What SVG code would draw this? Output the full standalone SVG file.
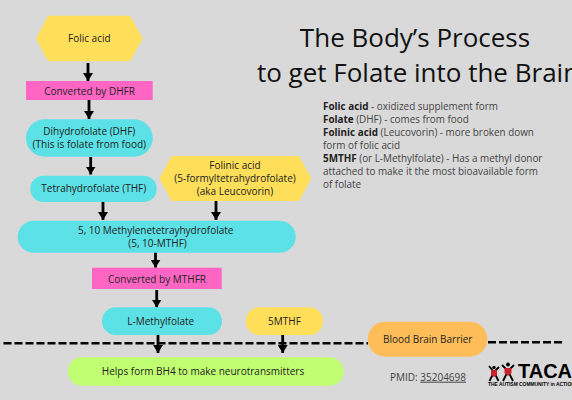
<svg xmlns="http://www.w3.org/2000/svg" width="572" height="400" viewBox="0 0 572 400">
<style>
text{font-family:"Open Sans","Noto Sans","Liberation Sans",sans-serif;font-size:10px;fill:#222;text-anchor:middle}
.t{font-size:26px;fill:#111}
.d{text-anchor:start;font-size:9.9px;fill:#444}
.d tspan.b{font-weight:700;fill:#222}
.c{fill:#5ce1e6}.y{fill:#ffde59}.p{fill:#ff66c4}
.a{stroke:#000;stroke-width:2.8;fill:none;marker-end:url(#h)}
.l{font-family:"Liberation Sans",sans-serif;font-weight:700;fill:#000;text-anchor:start}
</style>
<defs><marker id="h" markerUnits="userSpaceOnUse" markerWidth="12" markerHeight="10" refX="8" refY="5" orient="auto"><path d="M0 0L8 5L0 10Z" fill="#000"/></marker></defs>
<rect width="572" height="400" fill="#d9d9d9"/>
<text class="t" x="415" y="47">The Body’s Process</text>
<text class="t" x="418" y="82">to get Folate into the Brain</text>
<text class="d" x="323" y="110"><tspan class="b">Folic acid</tspan> - oxidized supplement form</text>
<text class="d" x="323" y="123"><tspan class="b">Folate</tspan> (DHF) - comes from food</text>
<text class="d" x="323" y="136"><tspan class="b">Folinic acid</tspan> (Leucovorin) - more broken down</text>
<text class="d" x="323" y="149">form of folic acid</text>
<text class="d" x="323" y="162"><tspan class="b">5MTHF</tspan> (or L-Methylfolate) - Has a methyl donor</text>
<text class="d" x="323" y="175">attached to make it the most bioavailable form</text>
<text class="d" x="323" y="188">of folate</text>
<g id="connectors">
<path class="a" d="M88 63V81"/>
<path class="a" d="M89 100V119"/>
<path class="a" d="M90.700 157V174.500"/>
<path class="a" d="M103 202V220"/>
<path class="a" d="M216 201V220"/>
<path class="a" d="M155.500 250V267.700"/>
<path class="a" d="M156.700 290V307.500"/>
<path class="a" d="M158 335V353"/>
<path class="a" d="M282.700 335V353"/>
<path d="M3.500 343.300H368M488 342.300H564" stroke="#000" stroke-width="2.400" stroke-dasharray="8 3" fill="none"/>
</g>
<g id="folic"><path class="y" d="M36 38.500L48 15.700H130L142.700 38.500L130 61.300H48Z"/><text x="89.300" y="42">Folic acid</text></g>
<g id="dhfr"><rect class="p" x="26" y="81" width="126.700" height="19"/><text x="89.500" y="94.500">Converted by DHFR</text></g>
<g id="dhf"><rect class="c" x="26" y="119.300" width="126.700" height="37.400" rx="18.700"/><text x="89.300" y="134.500">Dihydrofolate (DHF)</text><text x="89.300" y="147.500">(This is folate from food)</text></g>
<g id="thf"><rect class="c" x="30.300" y="175.700" width="126.400" height="26.300" rx="13.100"/><text x="93.800" y="192">Tetrahydrofolate (THF)</text></g>
<g id="folinic"><path class="y" d="M159.300 178.500L171.700 156H299L311.300 178.500L299 201H171.700Z"/><text x="235" y="168.500">Folinic acid</text><text x="235" y="181.700">(5-formyltetrahydrofolate)</text><text x="235" y="195">(aka Leucovorin)</text></g>
<g id="mthf"><rect class="c" x="17.700" y="220.700" width="278" height="32" rx="16"/><text x="155.700" y="233.500">5, 10 Methylenetetrayhydrofolate</text><text x="157.500" y="246.700">(5, 10-MTHF)</text></g>
<g id="mthfr"><rect class="p" x="92" y="267.700" width="129.700" height="21.300"/><text x="157" y="282.500">Converted by MTHFR</text></g>
<g id="lmethyl"><rect class="c" x="102" y="307.300" width="120" height="27.700" rx="13.800"/><text x="160.700" y="325">L-Methylfolate</text></g>
<g id="fivemthf"><rect class="y" x="245.700" y="307.300" width="77.300" height="27.700" rx="13.800"/><text x="284.500" y="325">5MTHF</text></g>
<g id="bbb"><rect x="367.700" y="321.700" width="119.600" height="35" rx="17.500" fill="#ffbd59"/><text x="427.700" y="342.700">Blood Brain Barrier</text></g>
<g id="bh4"><rect x="67.700" y="357.300" width="276" height="28.400" rx="14.200" fill="#c1ff72"/><text x="203" y="375">Helps form BH4 to make neurotransmitters</text></g>
<text x="428" y="380.700" style="fill:#444">PMID: <tspan text-decoration="underline">35204698</tspan></text>
<g id="logo">
<path d="M489 366L494 372L489.500 381M499 367L494 372L498.500 381M502 365L508 371L503 381M514 365L508 371L513 381" stroke="#000" stroke-width="1.800" fill="none"/>
<circle cx="494" cy="367.500" r="1.700" fill="#000"/><circle cx="508" cy="364.500" r="1.900" fill="#000"/>
<path d="M491 370H497V375L494 377L491 375ZM504.500 368H511.500V373L508 376L504.500 373Z" fill="#c8202f"/>
<text class="l" x="518" y="378" font-size="20" style="font-size:20px">TACA</text>
<text class="l" x="488" y="386" style="font-size:4.900px">THE AUTISM COMMUNITY in ACTION</text>
</g>
</svg>
